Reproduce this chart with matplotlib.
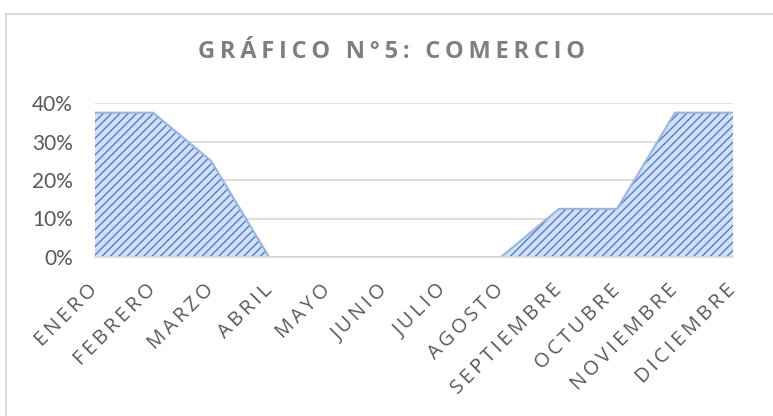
import matplotlib
matplotlib.use('Agg')
import matplotlib.pyplot as plt
from matplotlib.lines import Line2D
import numpy as np

meses = ['ENERO', 'FEBRERO', 'MARZO', 'ABRIL', 'MAYO', 'JUNIO', 'JULIO',
         'AGOSTO', 'SEPTIEMBRE', 'OCTUBRE', 'NOVIEMBRE', 'DICIEMBRE']
comercio = [0.375, 0.375, 0.25, 0, 0, 0, 0, 0, 0.125, 0.125, 0.375, 0.375]
yticks = [0, 0.1, 0.2, 0.3, 0.4]
titulo = 'GRÁFICO N°5: COMERCIO'


def espaciar(s, sep=' '):
    # letter spacing like excel
    return sep.join(list(s))


plt.rcParams['hatch.linewidth'] = 1.0
plt.rcParams['hatch.color'] = '#4f7fcc'

fig = plt.figure(figsize=(7.73, 4.16), dpi=100)
ax = fig.add_axes([95/773, 1-257/416, (733-95)/773, (257-103)/416])

x = np.arange(len(meses))
ax.fill_between(x, comercio, 0, facecolor='#d3e0f3', edgecolor='#4f7fcc',
                hatch='////', linewidth=0, zorder=3)
ax.plot(x, comercio, color='#9ab5df', lw=1.5, zorder=4)

ax.set_xlim(0, len(meses)-1)
ax.set_ylim(0, 0.4)
ax.set_yticks(yticks)
ax.set_yticklabels(['%d%%' % round(v*100) for v in yticks],
                   fontsize=15, color='#595959', family='Lato')
ax.yaxis.grid(True, color='#d9d9d9', lw=1.2, zorder=0)
ax.set_axisbelow(True)
for s in ['top', 'right', 'left']:
    ax.spines[s].set_visible(False)
ax.spines['bottom'].set_color('#d9d9d9')
ax.spines['bottom'].set_linewidth(1.2)
ax.spines['bottom'].set_zorder(5)
ax.tick_params(axis='both', length=0)
ax.tick_params(axis='y', pad=16)

ax.set_xticks(x)
ax.set_xticklabels([espaciar(m, '\u2009') for m in meses], rotation=45,
                   ha='right', va='center', rotation_mode='anchor',
                   fontsize=14.5, color='#595959', family='Open Sans')
ax.tick_params(axis='x', pad=22)

fig.text(392/773, 1-52/416, espaciar(titulo, '\u2009'), ha='center', va='center',
         fontsize=17, fontweight='bold', color='#7f7f7f', family='Open Sans')

# marco del grafico (solo arriba e izquierda)
fig.add_artist(Line2D([6/773, 6/773], [0, 1-14/416], transform=fig.transFigure,
                      color='#d9d9d9', lw=1.5))
fig.add_artist(Line2D([6/773, 1], [1-14/416, 1-14/416], transform=fig.transFigure,
                      color='#d9d9d9', lw=1.5))

fig.savefig('out.png', dpi=100)
